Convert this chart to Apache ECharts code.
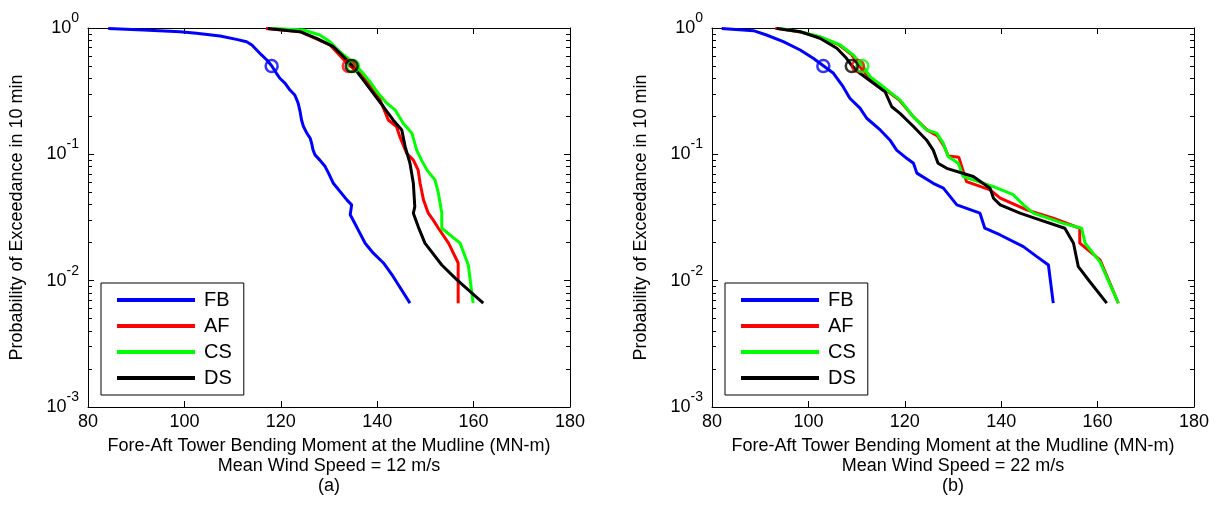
<!DOCTYPE html>
<html><head><meta charset="utf-8">
<script src="https://cdn.jsdelivr.net/npm/echarts@6/dist/echarts.min.js"></script>
<style>html,body{margin:0;padding:0;background:#fff}#c{width:1227px;height:517px}</style>
</head><body><div id="c"></div>
<script>
// ---------------- DATA ----------------
const seriesNames = ['FB', 'AF', 'CS', 'DS'];

// Panel (a): mean wind speed 12 m/s  [moment MN-m, probability of exceedance]
const a_FB = [[84.2,0.993],[91.5,0.964],[99.1,0.935],[102.5,0.908],[107.4,0.865],[110.8,0.813],[112.9,0.779],[114.0,0.734],[115.0,0.670],[116.0,0.612],[117.1,0.558],[118.1,0.503],[119.1,0.438],[119.8,0.40],[120.9,0.365],[121.9,0.323],[122.9,0.295],[123.6,0.254],[124.0,0.218],[124.3,0.187],[124.7,0.166],[125.4,0.147],[126.1,0.134],[126.4,0.122],[126.7,0.108],[127.1,0.099],[128.1,0.090],[129.2,0.080],[129.9,0.071],[130.9,0.059],[133.7,0.0436],[134.7,0.0398],[134.4,0.0332],[135.7,0.0268],[137.5,0.0198],[139.2,0.0165],[141.3,0.0138],[143.3,0.0108],[146.8,0.00664]];
const a_AF = [[116.9,0.993],[124.0,0.935],[130.2,0.734],[134.1,0.51],[136.4,0.438],[138.9,0.343],[140.6,0.27],[142.3,0.187],[144.0,0.166],[144.7,0.138],[146.1,0.102],[147.5,0.090],[148.5,0.075],[148.9,0.059],[149.6,0.0436],[150.6,0.0342],[151.6,0.0303],[152.7,0.026],[154.8,0.0198],[156.8,0.0138],[156.8,0.00664]];
const a_CS = [[118.5,0.993],[124.7,0.964],[128.1,0.880],[130.2,0.779],[132.2,0.650],[134.4,0.558],[136.8,0.451],[138.5,0.376],[140.2,0.304],[142.0,0.254],[143.7,0.225],[145.4,0.176],[147.2,0.147],[148.2,0.108],[149.2,0.090],[150.3,0.0753],[152.0,0.0627],[152.7,0.0492],[153.4,0.0342],[153.4,0.0260],[157.2,0.0198],[158.9,0.0133],[159.9,0.00664]];
const a_DS = [[117.3,0.993],[124.0,0.935],[127.4,0.829],[130.9,0.711],[133.0,0.593],[134.7,0.51],[137.1,0.388],[139.2,0.304],[141.3,0.238],[143.3,0.187],[145.1,0.156],[145.8,0.115],[146.8,0.085],[147.5,0.059],[147.8,0.0385],[147.5,0.0342],[148.5,0.0268],[149.9,0.0198],[153.4,0.0133],[156.5,0.0102],[162.0,0.00664]];

// Panel (b): mean wind speed 22 m/s
const b_FB = [[82.0,0.993],[88.6,0.952],[91.3,0.88],[94.8,0.779],[98.3,0.670],[101.0,0.576],[103.1,0.503],[105.2,0.438],[107.2,0.343],[108.6,0.278],[110.7,0.232],[112.1,0.193],[114.9,0.156],[116.9,0.130],[118.3,0.108],[120.4,0.093],[121.8,0.085],[122.5,0.071],[125.9,0.059],[128.0,0.054],[130.8,0.0398],[135.6,0.0342],[136.6,0.026],[139.8,0.0230],[144.6,0.0186],[147.4,0.0155],[149.8,0.0133],[150.1,0.0108],[150.8,0.00664]];
const b_AF = [[93.1,0.993],[98.0,0.935],[102.2,0.853],[106.4,0.734],[109.0,0.612],[110.5,0.503],[112.4,0.412],[115.2,0.343],[118.8,0.27],[121.8,0.198],[124.6,0.156],[126.8,0.14],[128.2,0.115],[129.0,0.097],[131.2,0.095],[132.8,0.0608],[137.7,0.0523],[139.8,0.045],[145.3,0.0363],[150.8,0.0312],[156.3,0.026],[156.3,0.0198],[160.5,0.0146],[164.3,0.00664]];
const b_CS = [[94.1,0.993],[98.3,0.935],[102.4,0.853],[106.6,0.734],[109.3,0.612],[111.2,0.503],[112.8,0.412],[115.5,0.343],[119.0,0.27],[121.8,0.198],[124.5,0.156],[126.6,0.147],[128.0,0.122],[129.0,0.096],[131.1,0.085],[132.1,0.0667],[138.4,0.0555],[142.5,0.0479],[144.6,0.0398],[146.7,0.0342],[152.9,0.0284],[156.7,0.026],[157.4,0.0198],[160.5,0.0141],[164.3,0.00664]];
const b_DS = [[93.4,0.993],[98.3,0.935],[102.4,0.829],[105.9,0.691],[107.9,0.576],[109.0,0.503],[110.7,0.438],[113.5,0.365],[115.9,0.313],[117.3,0.238],[119.0,0.211],[121.8,0.166],[124.5,0.130],[125.9,0.108],[126.9,0.085],[128.7,0.0775],[134.2,0.0667],[137.7,0.0538],[138.4,0.0449],[139.8,0.0398],[143.9,0.0342],[148.0,0.0303],[153.2,0.026],[155.0,0.0198],[156.0,0.0129],[158.4,0.0098],[161.9,0.00664]];

// Median (probability 0.5) markers
const medianProb = 0.5;
const a_median = [118.1, 134.1, 135.0, 134.7];
const b_median = [103.1, 110.3, 111.2, 109.0];

// Axes
const xMin = 80, xMax = 180, xStep = 20;
const yMajorTicks = [0.001, 0.01, 0.1, 1];
const yMinorTicks = [0.002,0.003,0.004,0.005,0.006,0.007,0.008,0.009,
                     0.02,0.03,0.04,0.05,0.06,0.07,0.08,0.09,
                     0.2,0.3,0.4,0.5,0.6,0.7,0.8,0.9];
const xTitle = 'Fore-Aft Tower Bending Moment at the Mudline (MN-m)';
const yTitle = 'Probability of Exceedance in 10 min';
const panelCaptions = ['Mean Wind Speed = 12 m/s\n(a)', 'Mean Wind Speed = 22 m/s\n(b)'];

// ---------------- STYLE / BUILD ----------------
const colors = ['#0000ff', '#ff0000', '#00ff00', '#000000'];
const FONT = '"Liberation Sans", Arial, Helvetica, sans-serif';
const panels = [
  { lines: [a_FB, a_AF, a_CS, a_DS], median: a_median, left: 88 },
  { lines: [b_FB, b_AF, b_CS, b_DS], median: b_median, left: 712 }
];
const gridTop = 28, gridW = 482, gridH = 379;

const option = {
  backgroundColor: '#fff',
  animation: false,
  textStyle: { fontFamily: FONT },
  grid: [], xAxis: [], yAxis: [], series: [], legend: []
};

const axisLine = { show: true, lineStyle: { color: '#000', width: 1 } };

panels.forEach((p, i) => {
  option.grid.push({ left: p.left, top: gridTop, width: gridW, height: gridH, outerBoundsMode: 'none', containLabel: false });
  const xi = option.xAxis.length;
  option.xAxis.push({
    gridIndex: i, type: 'value', min: xMin, max: xMax, interval: xStep, position: 'bottom',
    axisLine, splitLine: { show: false },
    axisTick: { inside: true, length: 6, lineStyle: { color: '#000' } },
    axisLabel: { color: '#000', fontSize: 18, margin: 6, fontFamily: FONT },
    name: xTitle + '\n' + panelCaptions[i], nameLocation: 'middle', nameGap: 28,
    nameTextStyle: { color: '#000', fontSize: 18, lineHeight: 20, fontFamily: FONT }
  });
  option.xAxis.push({
    gridIndex: i, type: 'value', min: xMin, max: xMax, interval: xStep, position: 'top',
    axisLine, splitLine: { show: false },
    axisTick: { inside: true, length: 6, lineStyle: { color: '#000' } },
    axisLabel: { show: false }
  });
  const yi = option.yAxis.length;
  const yBase = { gridIndex: i, type: 'log', logBase: 10, min: 0.001, max: 1, splitLine: { show: false } };
  option.yAxis.push(Object.assign({}, yBase, {
    position: 'left', axisLine,
    axisTick: { inside: true, length: 6, lineStyle: { color: '#000' }, customValues: yMajorTicks },
    axisLabel: {
      customValues: yMajorTicks, margin: 9, color: '#000', fontFamily: FONT,
      formatter: v => '{b|10}{s|' + Math.round(Math.log10(v)) + '}',
      rich: {
        b: { fontSize: 18, color: '#000', fontFamily: FONT },
        s: { fontSize: 14, color: '#000', fontFamily: FONT, padding: [0, 0, 20, 0] }
      }
    },
    name: yTitle, nameLocation: 'middle', nameRotate: 90, nameGap: 62,
    nameTextStyle: { color: '#000', fontSize: 18, fontFamily: FONT }
  }));
  option.yAxis.push(Object.assign({}, yBase, {
    position: 'right', axisLine,
    axisTick: { inside: true, length: 6, lineStyle: { color: '#000' }, customValues: yMajorTicks },
    axisLabel: { show: false }
  }));
  option.yAxis.push(Object.assign({}, yBase, {
    position: 'left', axisLine: { show: false },
    axisTick: { inside: true, length: 4, lineStyle: { color: '#000' }, customValues: yMinorTicks },
    axisLabel: { show: false }
  }));
  option.yAxis.push(Object.assign({}, yBase, {
    position: 'right', axisLine: { show: false },
    axisTick: { inside: true, length: 4, lineStyle: { color: '#000' }, customValues: yMinorTicks },
    axisLabel: { show: false }
  }));

  p.lines.forEach((d, k) => {
    option.series.push({
      type: 'line', name: seriesNames[k], xAxisIndex: xi, yAxisIndex: yi,
      data: d, symbol: 'none', showSymbol: false, clip: true,
      lineStyle: { color: colors[k], width: 3 }, itemStyle: { color: colors[k] },
      z: 2 + k
    });
  });
  p.median.forEach((m, k) => {
    option.series.push({
      type: 'scatter', name: seriesNames[k] + ' median', xAxisIndex: xi, yAxisIndex: yi,
      data: [[m, medianProb]], symbol: 'circle', symbolSize: 12,
      itemStyle: { color: 'rgba(0,0,0,0)', borderColor: colors[k], borderWidth: 2.5 },
      z: 10 + k
    });
  });

  option.legend.push({
    data: seriesNames.map(n => ({ name: n, icon: 'rect' })),
    orient: 'vertical', left: p.left + 13, top: 283,
    backgroundColor: '#fff', borderColor: '#000', borderWidth: 1,
    padding: [7, 12, 7, 16], itemWidth: 78, itemHeight: 4, itemGap: 6,
    textStyle: { fontSize: 20, lineHeight: 20, color: '#000', fontFamily: FONT, padding: [0, 0, 0, 4] },
    selectedMode: false
  });
});

const chart = echarts.init(document.getElementById('c'), null, { renderer: 'canvas' });
chart.setOption(option);
</script>
</body></html>
